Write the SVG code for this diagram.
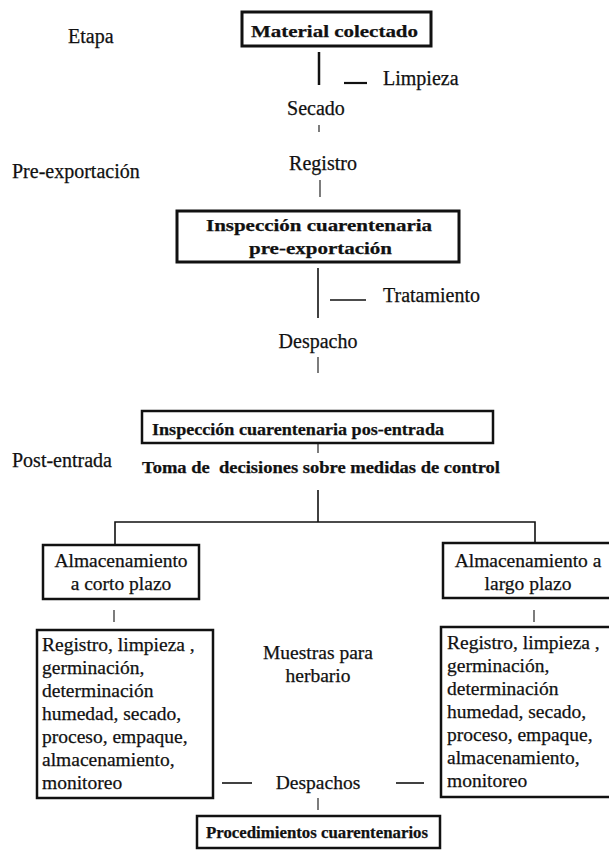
<svg xmlns="http://www.w3.org/2000/svg" width="609" height="865" viewBox="0 0 609 865" font-family="'Liberation Serif', 'Times New Roman', serif">
<style>
text{font-family:"Liberation Serif","Times New Roman",serif;fill:#111;stroke:#111;stroke-width:0.25}
.r{font-size:20px}
.s{font-size:19.5px}
.b{font-weight:bold;font-size:17px}
.box{fill:#fff;stroke:#111;stroke-width:2.5}
.ln{stroke:#111;stroke-width:1.6;fill:none}
.th{stroke:#111;stroke-width:1.1;fill:none}
</style>
<rect width="609" height="865" fill="#fff"/>
<g id="labels">
<text class="r" x="68" y="43">Etapa</text>
<text class="r" x="12" y="178">Pre-exportación</text>
<text class="r" x="12" y="467">Post-entrada</text>
</g>
<g id="connectors">
<line class="ln" x1="319" y1="52" x2="319" y2="85" style="stroke-width:2.5"/>
<line class="ln" x1="344" y1="83" x2="367" y2="83" style="stroke-width:2.2"/>
<line class="th" x1="319" y1="125" x2="319" y2="132"/>
<line class="th" x1="320" y1="180" x2="320" y2="197"/>
<line class="ln" x1="318" y1="268" x2="318" y2="318"/>
<line class="ln" x1="330" y1="300" x2="366" y2="300"/>
<line class="th" x1="318" y1="357" x2="318" y2="373"/>
<line class="th" x1="318" y1="443" x2="318" y2="453"/>
<line class="ln" x1="318" y1="490" x2="318" y2="522"/>
<polyline class="ln" points="115,544 115,522 535,522 535,543"/>
<line class="th" x1="114" y1="610" x2="114" y2="622"/>
<line class="th" x1="534" y1="610" x2="534" y2="622"/>
<line class="ln" x1="222" y1="783" x2="252" y2="783"/>
<line class="ln" x1="396" y1="783" x2="424" y2="783"/>
<line class="th" x1="318" y1="798" x2="318" y2="810"/>
</g>
<g id="material">
<rect class="box" x="242" y="12" width="189" height="34" style="stroke-width:3"/>
<text class="b" x="251" y="37" textLength="167" lengthAdjust="spacingAndGlyphs">Material colectado</text>
</g>
<g id="limpieza"><text class="r" x="383" y="85">Limpieza</text></g>
<g id="secado"><text class="r" x="316" y="115" text-anchor="middle">Secado</text></g>
<g id="registro"><text class="r" x="323" y="170" text-anchor="middle">Registro</text></g>
<g id="insp-pre">
<rect class="box" x="177" y="211" width="282" height="51" style="stroke-width:3"/>
<text class="b" x="206" y="231" textLength="226" lengthAdjust="spacingAndGlyphs">Inspección cuarentenaria</text>
<text class="b" x="249" y="254" textLength="143" lengthAdjust="spacingAndGlyphs">pre-exportación</text>
</g>
<g id="tratamiento"><text class="r" x="383" y="302">Tratamiento</text></g>
<g id="despacho"><text class="r" x="318" y="348" text-anchor="middle">Despacho</text></g>
<g id="insp-pos">
<rect class="box" x="142" y="411" width="351" height="32"/>
<text class="b" x="152" y="435" textLength="292" lengthAdjust="spacingAndGlyphs">Inspección cuarentenaria pos-entrada</text>
</g>
<g id="toma">
<text class="b" x="142" y="473" textLength="358" lengthAdjust="spacingAndGlyphs" xml:space="preserve">Toma de  decisiones sobre medidas de control</text>
</g>
<g id="alm-corto">
<rect class="box" x="43" y="545" width="156" height="54"/>
<text class="s" x="121" y="567" text-anchor="middle">Almacenamiento</text>
<text class="s" x="121" y="590" text-anchor="middle">a corto plazo</text>
</g>
<g id="alm-largo">
<rect class="box" x="443" y="543" width="175" height="55"/>
<text class="s" x="528" y="567" text-anchor="middle">Almacenamiento a</text>
<text class="s" x="528" y="590" text-anchor="middle">largo plazo</text>
</g>
<g id="proc-corto">
<rect class="box" x="37" y="630" width="176" height="168"/>
<text class="s" x="42" y="651">Registro, limpieza ,</text>
<text class="s" x="42" y="674">germinación,</text>
<text class="s" x="42" y="697">determinación</text>
<text class="s" x="42" y="720">humedad, secado,</text>
<text class="s" x="42" y="743">proceso, empaque,</text>
<text class="s" x="42" y="766">almacenamiento,</text>
<text class="s" x="42" y="789">monitoreo</text>
</g>
<g id="muestras">
<text class="s" x="318" y="659" text-anchor="middle">Muestras para</text>
<text class="s" x="318" y="682" text-anchor="middle">herbario</text>
</g>
<g id="proc-largo">
<rect class="box" x="441" y="627" width="175" height="170"/>
<text class="s" x="447" y="649">Registro, limpieza ,</text>
<text class="s" x="447" y="672">germinación,</text>
<text class="s" x="447" y="695">determinación</text>
<text class="s" x="447" y="718">humedad, secado,</text>
<text class="s" x="447" y="741">proceso, empaque,</text>
<text class="s" x="447" y="764">almacenamiento,</text>
<text class="s" x="447" y="787">monitoreo</text>
</g>
<g id="despachos"><text class="s" x="318" y="789" text-anchor="middle">Despachos</text></g>
<g id="procedimientos">
<rect class="box" x="197" y="816" width="243" height="32"/>
<text class="b" x="206" y="838" textLength="222" lengthAdjust="spacingAndGlyphs">Procedimientos cuarentenarios</text>
</g>
</svg>
